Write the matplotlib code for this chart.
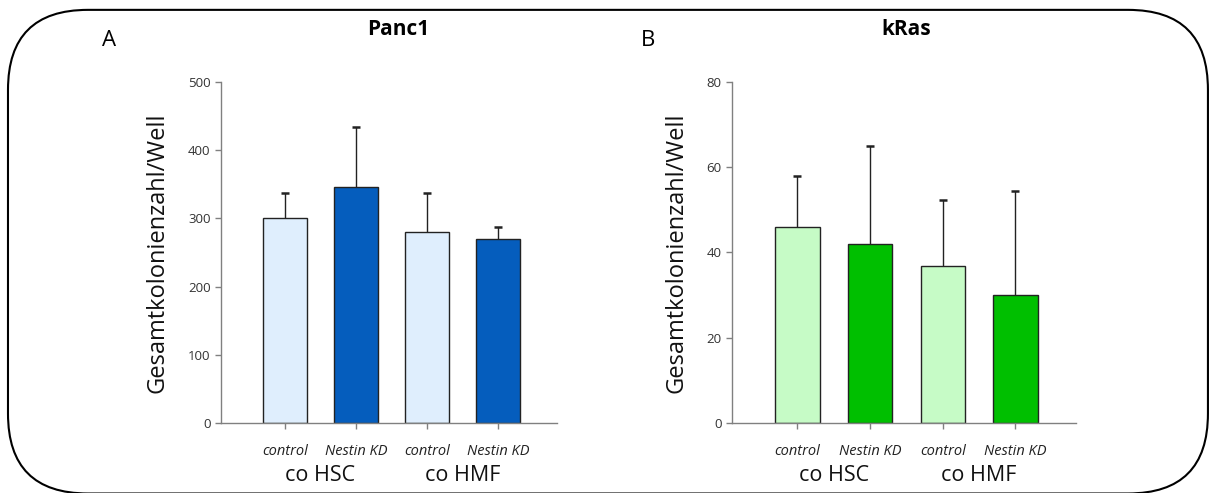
import matplotlib
matplotlib.use("Agg")
from matplotlib import pyplot as plt
from matplotlib.patches import FancyBboxPatch

plt.rcParams['font.family'] = ['Open Sans', 'DejaVu Sans']

# data
categories = ['control', 'Nestin KD', 'control', 'Nestin KD']
groups = ['co HSC', 'co HMF']

panc1_mean = [300, 346, 280, 270]
panc1_err = [37, 88, 57, 18]

kras_mean = [46, 42, 36.8, 30]
kras_err = [12, 23, 15.4, 24.4]

blue_colors = ['#dfeefd', '#055dbd', '#dfeefd', '#055dbd']
green_colors = ['#c6fbc6', '#00bf00', '#c6fbc6', '#00bf00']

fig = plt.figure(figsize=(12.1, 4.93), dpi=100)

# rounded frame round both panels
frame = FancyBboxPatch((0.0066, -0.001), 0.9917, 0.981,
                       boxstyle="round,pad=0,rounding_size=0.066",
                       transform=fig.transFigure, fill=False,
                       edgecolor='black', linewidth=1.5,
                       mutation_aspect=1210 / 493)
fig.patches.append(frame)


def draw_panel(rect, means, errs, colors, ymax, step, title, letter, title_x, letter_x):
    ax = fig.add_axes(rect)
    x = list(range(len(means)))
    ax.bar(x, means, width=0.61, color=colors, edgecolor='#222222', linewidth=1.0, zorder=2)
    eb = ax.errorbar(x, means, yerr=[[0] * len(errs), errs], fmt='none',
                     ecolor='#222222', elinewidth=1.0, capsize=3, capthick=1.8, zorder=1)
    # only the upper cap is wanted
    eb[1][0].set_visible(False)
    ax.set_xlim(-0.9, 3.83)
    ax.set_ylim(0, ymax)
    ax.set_yticks(range(0, ymax + 1, step))
    ax.set_xticks(x)
    ax.set_xticklabels([])
    for s in ['top', 'right']:
        ax.spines[s].set_visible(False)
    for s in ['left', 'bottom']:
        ax.spines[s].set_color('#808080')
        ax.spines[s].set_linewidth(1.0)
    ax.tick_params(axis='both', colors='#808080', labelcolor='#333333',
                   labelsize=9.5, length=4, width=1.0)
    ax.set_ylabel('Gesamtkolonienzahl/Well', fontsize=17, labelpad=13, color='#111111')

    for i, c in enumerate(categories):
        ax.text(i, -0.085, c, transform=ax.get_xaxis_transform(),
                ha='center', va='center', fontsize=10.5, style='italic', color='#222222')
    for g, name in enumerate(groups):
        ax.text(2 * g + 0.5, -0.155, name, transform=ax.get_xaxis_transform(),
                ha='center', va='center', fontsize=15.5, color='#111111')

    fig.text(title_x, 0.94, title, ha='center', va='center', fontsize=15, fontweight='bold')
    fig.text(letter_x, 0.918, letter, ha='center', va='center', fontsize=16)
    return ax


draw_panel([0.1826, 0.142, 0.2777, 0.6917], panc1_mean, panc1_err, blue_colors,
           500, 100, 'Panc1', 'A', 0.329, 0.09)
draw_panel([0.605, 0.142, 0.284, 0.6917], kras_mean, kras_err, green_colors,
           80, 20, 'kRas', 'B', 0.749, 0.536)

fig.savefig('out.png', dpi=100)
